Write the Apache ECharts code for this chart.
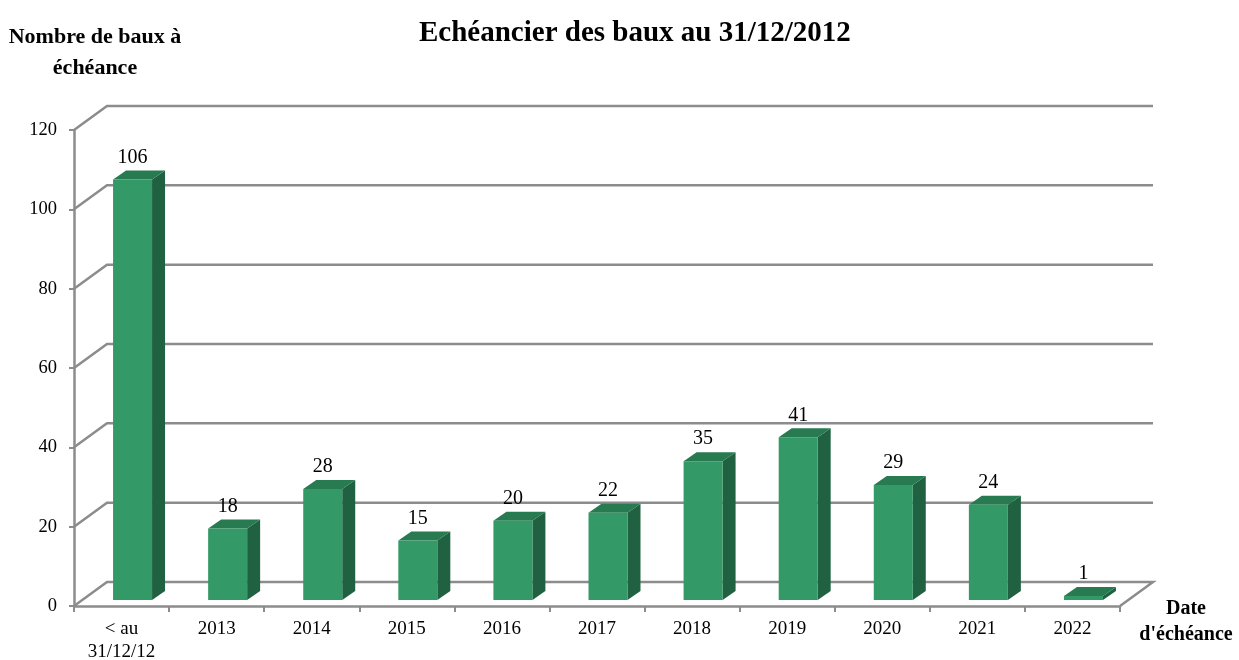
<!DOCTYPE html>
<html><head><meta charset="utf-8">
<script src="https://cdn.jsdelivr.net/npm/echarts@6/dist/echarts.min.js"></script>
<style>html,body{margin:0;padding:0;background:#fff}#c{width:1239px;height:660px}</style>
</head><body><div id="c"></div>
<script>
const categories = ['< au\n31/12/12','2013','2014','2015','2016','2017','2018','2019','2020','2021','2022'];
const values = [106,18,28,15,20,22,35,41,29,24,1];
const yTicks = [0,20,40,60,80,100,120];

const FONT = '"Liberation Serif","Times New Roman",serif';
const GRID_COLOR = '#8c8c8c';
const DX = 33, DY = -24;        // back wall offset
const BDX = 11, BDY = -6;       // bar plane offset
const DEPX = 13, DEPY = -9;     // bar depth

const chart = echarts.init(document.getElementById('c'));
chart.setOption({
  animation:false,
  title:{text:'Echéancier des baux au 31/12/2012',left:414,top:14,
    textStyle:{fontFamily:FONT,fontSize:29,fontWeight:'bold',color:'#000'}},
  graphic:[
    {type:'text',x:95,y:22,style:{text:'Nombre de baux à\néchéance',font:'bold 22px '+FONT,fill:'#000',textAlign:'center',textVerticalAlign:'top',lineHeight:31}},
    {type:'text',x:1186,y:596,style:{text:'Date\nd\'échéance',font:'bold 20px '+FONT,fill:'#000',textAlign:'center',textVerticalAlign:'top',lineHeight:26}}
  ],
  grid:{left:74,right:119,top:130,bottom:54,outerBoundsMode:'none',containLabel:false},
  xAxis:{type:'category',data:categories,
    axisLine:{lineStyle:{color:GRID_COLOR,width:2.5}},
    axisTick:{show:true,length:6,lineStyle:{color:GRID_COLOR,width:2}},
    axisLabel:{fontFamily:FONT,fontSize:19,color:'#000',margin:12,lineHeight:23,interval:0}},
  yAxis:{type:'value',min:0,max:120,interval:20,
    axisLine:{show:true,lineStyle:{color:GRID_COLOR,width:2.5}},
    axisTick:{show:true,length:5,lineStyle:{color:GRID_COLOR,width:2}},
    splitLine:{show:false},
    axisLabel:{fontFamily:FONT,fontSize:18.5,color:'#000',margin:17}},
  series:[
    {type:'custom',z:1,data:yTicks.map(v=>[0,v]),
     renderItem:function(params,api){
       const cs=params.coordSys;
       const y=api.coord([0,api.value(1)])[1];
       const x0=cs.x, x1=cs.x+cs.width;
       const pts=[[x0,y],[x0+DX,y+DY],[x1+DX,y+DY]];
       if(api.value(1)===0) pts.push([x1,y]);
       return {type:'polyline',shape:{points:pts},style:{stroke:GRID_COLOR,lineWidth:2.5,fill:null}};
     }},
    {type:'custom',z:3,data:values.map((v,i)=>[i,v]),
     renderItem:function(params,api){
       const i=api.value(0), v=api.value(1);
       const t=api.coord([i,v]), b=api.coord([i,0]);
       const w=api.size([1,0])[0]*0.41;
       const xl=t[0]-w/2+BDX, xr=t[0]+w/2+BDX;
       const yt=t[1]+BDY, yb=b[1]+BDY;
       return {type:'group',children:[
         {type:'polygon',shape:{points:[[xr,yt],[xr+DEPX,yt+DEPY],[xr+DEPX,yb+DEPY],[xr,yb]]},style:{fill:'#1f6140'}},
         {type:'polygon',shape:{points:[[xl,yt],[xl+DEPX,yt+DEPY],[xr+DEPX,yt+DEPY],[xr,yt]]},style:{fill:'#287a50'}},
         {type:'rect',shape:{x:xl,y:yt,width:xr-xl,height:yb-yt},style:{fill:'#339966'}},
         {type:'text',x:(xl+xr)/2,y:yt-12,style:{text:String(v),fontFamily:FONT,fontSize:20,fill:'#000',align:'center',verticalAlign:'bottom'}}
       ]};
     }}
  ]
});
</script></body></html>
